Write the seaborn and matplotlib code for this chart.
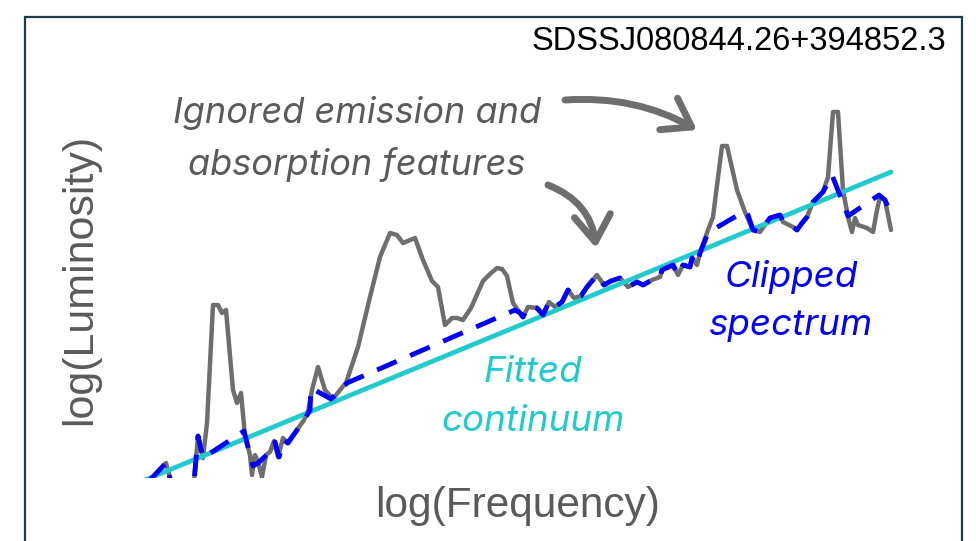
import numpy as np
import pandas as pd
import matplotlib
matplotlib.use("Agg")
import matplotlib.pyplot as plt
from matplotlib.patches import Rectangle
import seaborn as sns

# ===================== DATA =====================
# observed spectrum (grey)
spec_x = [150, 166, 171, 194, 198, 203, 207, 213, 218, 222, 226, 233, 237, 241,
          245, 250, 252, 255, 258, 262, 266, 270, 274, 278, 283, 287, 297, 304,
          308, 312, 318, 325, 333, 340, 346, 358, 370, 380, 390, 397, 403, 415,
          423, 432, 438, 445, 452, 457, 463, 471, 483, 490, 497, 502, 507, 513,
          520, 523, 528, 537, 543, 549, 555, 562, 568, 574, 581, 587, 597, 604,
          611, 620, 628, 637, 643, 652, 660, 662, 673, 678, 683, 690, 692, 697,
          700, 708, 713, 722, 727, 737, 745, 753, 760, 767, 770, 780, 783, 793,
          797, 802, 807, 813, 818, 823, 828, 833, 838, 843, 848, 852, 855, 858,
          867, 873, 877, 880, 885, 891]
spec_y = [61, 78, 59, 59, 105, 83, 118, 236, 236, 228, 231, 151, 138, 148,
          105, 86, 66, 86, 79, 64, 86, 89, 100, 84, 103, 98, 111, 121,
          129, 151, 174, 151, 142, 151, 158, 194, 244, 284, 308, 306, 298, 303,
          281, 260, 254, 216, 223, 223, 221, 233, 260, 267, 273, 272, 265, 238,
          228, 224, 234, 233, 226, 239, 234, 239, 251, 243, 245, 254, 266, 256,
          260, 263, 254, 259, 256, 261, 264, 271, 276, 266, 276, 274, 283, 276,
          288, 311, 324, 395, 395, 351, 329, 311, 309, 319, 323, 326, 319, 314,
          311, 318, 324, 339, 344, 349, 364, 429, 429, 351, 324, 309, 323, 316,
          313, 309, 331, 344, 341, 311]

# clipped spectrum (blue dashed)
clip_x = [150, 166, 171, 194, 198, 203, 244, 250, 253, 258, 272, 275, 279, 284,
          288, 297, 304, 310, 311, 331, 340, 347, 515, 520, 523, 528, 537, 543,
          549, 555, 562, 568, 574, 581, 587, 597, 604, 611, 620, 628, 637, 643,
          652, 660, 662, 673, 678, 683, 690, 692, 697, 700, 706, 709, 745, 748,
          753, 760, 767, 770, 780, 783, 793, 797, 802, 807, 813, 818, 823, 832,
          848, 879, 885, 888]
clip_y = [61, 78, 59, 59, 105, 83, 110, 86, 75, 78, 91, 99, 84, 101,
          98, 111, 121, 131, 153, 142, 151, 158, 231, 228, 224, 234, 233, 226,
          239, 234, 239, 251, 243, 245, 254, 266, 256, 260, 263, 254, 259, 256,
          261, 264, 271, 276, 266, 276, 274, 283, 276, 288, 303, 309, 330, 326,
          311, 309, 319, 323, 326, 319, 314, 311, 318, 324, 339, 344, 349, 366,
          325, 346, 341, 334]

# fitted continuum (cyan)
cont_x = [140, 891]
cont_y = [59, 369]

TITLE = "SDSSJ080844.26+394852.3"

GREY = "#6e6e6e"
BLUE = "#0000ff"
CYAN = "#1fcbcb"
TXT = "#5a5a5a"

# ===================== PLOT =====================
sns.set_style("white")
plt.rcParams["font.family"] = ["Liberation Sans", "DejaVu Sans"]

W, H = 976, 541
fig = plt.figure(figsize=(W / 100, H / 100), dpi=100)
ax = fig.add_axes([140 / W, 63 / H, 755 / W, 378 / H])

spec = pd.DataFrame({"freq": spec_x, "lum": spec_y})
clip = pd.DataFrame({"freq": clip_x, "lum": clip_y})
cont = pd.DataFrame({"freq": cont_x, "lum": cont_y})

sns.lineplot(data=spec, x="freq", y="lum", color=GREY, lw=3.2, estimator=None,
             ax=ax, zorder=2)
sns.lineplot(data=cont, x="freq", y="lum", color=CYAN, lw=3.4, estimator=None,
             ax=ax, zorder=3)
sns.lineplot(data=clip, x="freq", y="lum", color=BLUE, lw=3.5, estimator=None,
             ax=ax, zorder=4)
ax.lines[-1].set_dashes((4.4, 3.0))

ax.set_xlim(140, 895)
ax.set_ylim(63, 441)
ax.set_xticks([])
ax.set_yticks([])
sns.despine(ax=ax, left=True, bottom=True)

ax.set_xlabel("log(Frequency)", fontsize=30.5, color=TXT, labelpad=6)
ax.set_ylabel("log(Luminosity)", fontsize=31, color=TXT)
ax.yaxis.set_label_coords(-0.053, 0.525)

# object name
fig.text(946 / W, 1 - 41 / H, TITLE, ha="right", va="center", fontsize=23.5,
         color="black")

# annotations
ital = dict(family=["Inter", "DejaVu Sans"], style="italic")
fig.text(357 / W, 1 - 139 / H, "Ignored emission and\nabsorption features",
         ha="center", va="center", fontsize=26, color=TXT, linespacing=1.6,
         **ital)
fig.text(533 / W, 1 - 397 / H, "Fitted\ncontinuum", ha="center", va="center",
         fontsize=26.5, color=CYAN, linespacing=1.6, **ital)
fig.text(791 / W, 1 - 301 / H, "Clipped\nspectrum", ha="center", va="center",
         fontsize=26.5, color=BLUE, linespacing=1.6, **ital)

arrow = dict(arrowstyle="->,head_length=0.95,head_width=0.65", color=GREY,
             lw=5, shrinkA=0, shrinkB=0, mutation_scale=20,
             capstyle="round", joinstyle="round")
fig.add_artist(plt.Annotation("", xy=(697, H - 130), xytext=(565, H - 100),
                              xycoords="figure pixels",
                              textcoords="figure pixels",
                              arrowprops=dict(arrow, connectionstyle="arc3,rad=-0.15")))
fig.add_artist(plt.Annotation("", xy=(596, H - 248), xytext=(548, H - 185),
                              xycoords="figure pixels",
                              textcoords="figure pixels",
                              arrowprops=dict(arrow, connectionstyle="arc3,rad=-0.3")))

# outer frame (bottom edge lies below the image)
fig.add_artist(Rectangle((25 / W, -0.2), (962 - 25) / W, 1.2 - 17 / H,
                         transform=fig.transFigure, fill=False,
                         edgecolor="#1c3b4b", lw=1.6, clip_on=False))

fig.savefig("out.png", dpi=100)
